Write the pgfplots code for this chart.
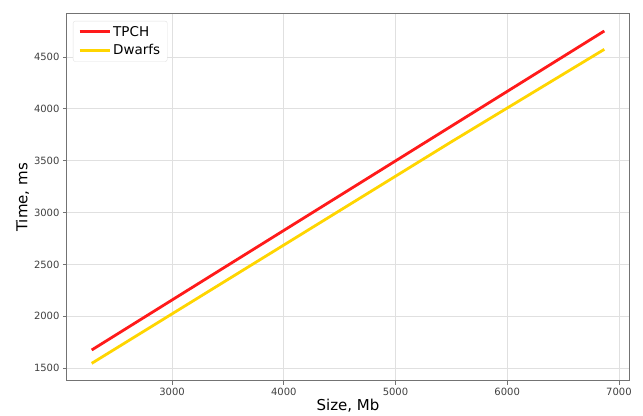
\documentclass[border=0pt]{standalone}
\usepackage{pgfplots}
\pgfplotsset{compat=1.18}
\usepackage{fontspec}
\setmainfont{DejaVu Sans}
\definecolor{tpch}{HTML}{FF1A1A}
\definecolor{dwarfs}{HTML}{FFD500}
\begin{document}
\begin{tikzpicture}
\begin{axis}[
  scale only axis,
  width=562pt, height=367pt,
  xmin=2060, xmax=7090,
  ymin=1375, ymax=4915,
  xtick={3000,4000,5000,6000,7000},
  ytick={1500,2000,2500,3000,3500,4000,4500},
  /pgf/number format/assume math mode=true,
  /pgf/number format/set thousands separator={},
  tick label style={font=\fontsize{10}{12}\selectfont, text=black!75},
  grid=major,
  major grid style={draw=black!12, line width=0.8pt},
  axis line style={draw=black!55, line width=1pt},
  tick style={draw=black!55, line width=0.8pt},
  tick align=outside,
  major tick length=4pt,
  xtick pos=bottom, ytick pos=left,
  xlabel={Size, Mb}, ylabel={Time, ms},
  label style={font=\fontsize{15}{18}\selectfont},
  xlabel style={yshift=4pt},
  ylabel style={yshift=-2pt},
  legend style={at={(0,1)}, anchor=north west, xshift=6pt, yshift=-7pt,
    draw=black!12, rounded corners=2pt, font=\fontsize{13.5}{16}\selectfont,
    row sep=3pt, inner xsep=5pt, inner ysep=3pt},
  legend cell align=left,
  legend image code/.code={\draw[#1, line width=3pt] (0pt,0pt) -- (30pt,0pt);},
]
\addplot[tpch, line width=2.8pt] coordinates {(2281,1674) (4000,2827) (5500,3833) (6869,4751)};
\addlegendentry{TPCH}
\addplot[dwarfs, line width=2.8pt] coordinates {(2281,1545) (4000,2686) (5500,3682) (6869,4574)};
\addlegendentry{Dwarfs}
\end{axis}
\path[use as bounding box] ([xshift=-67pt,yshift=-31pt]current axis.south west) rectangle ([xshift=14pt,yshift=14pt]current axis.north east);
\end{tikzpicture}
\end{document}
